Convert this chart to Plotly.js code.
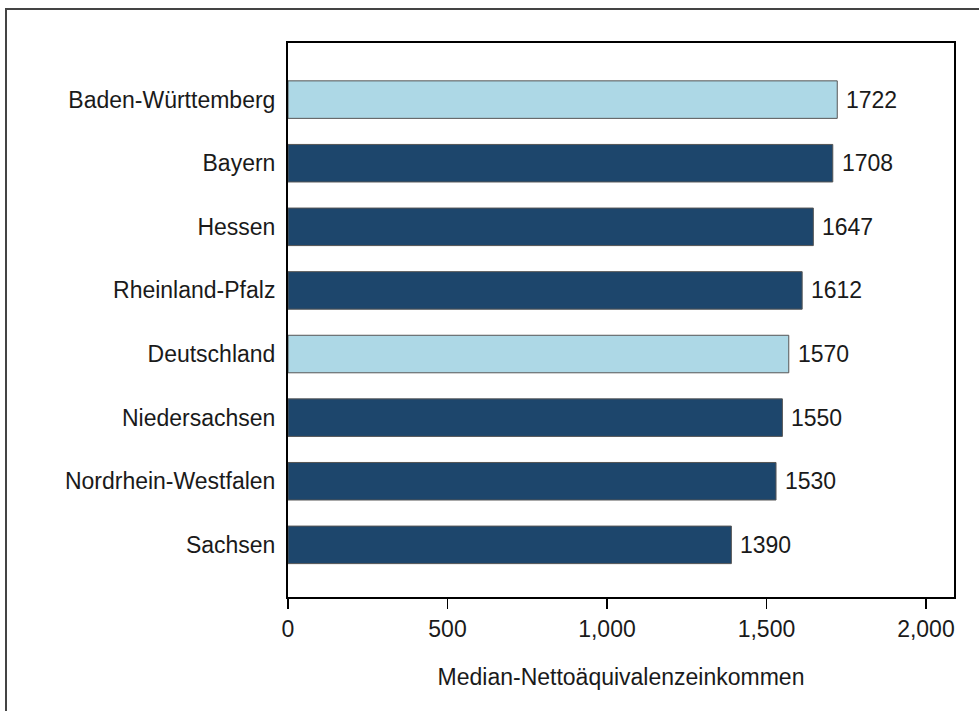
<!DOCTYPE html>
<html>
<head>
<meta charset="utf-8">
<script src="https://cdn.plot.ly/plotly-3.0.1.min.js"></script>
<style>
  html, body { margin: 0; padding: 0; background: #ffffff; }
  #chart { width: 979px; height: 711px; }
</style>
</head>
<body>
<div id="chart"></div>
<script>
// Median net equivalent income by federal state (bottom to top)
const states = [
  "Sachsen",
  "Nordrhein-Westfalen",
  "Niedersachsen",
  "Deutschland",
  "Rheinland-Pfalz",
  "Hessen",
  "Bayern",
  "Baden-Württemberg"
];
const medianIncome = [1390, 1530, 1550, 1570, 1612, 1647, 1708, 1722];
const highlighted = [false, false, false, true, false, false, false, true];
const xTickValues = [0, 500, 1000, 1500, 2000];
const xTickLabels = ["0", "500", "1,000", "1,500", "2,000"];

const darkBlue = "#1d466c";
const lightBlue = "#add8e6";
const fontFamily = "Liberation Sans, Arial, sans-serif";
const textColor = "#1a1a1a";
const fontSize = 23;

const trace = {
  type: "bar",
  orientation: "h",
  y: states,
  x: medianIncome,
  width: 0.59,
  marker: {
    color: highlighted.map(h => (h ? lightBlue : darkBlue)),
    line: { color: "#555555", width: 1 }
  },
  hoverinfo: "skip"
};

const valueLabels = states.map((s, i) => ({
  x: medianIncome[i],
  y: s,
  xref: "x",
  yref: "y",
  text: String(medianIncome[i]),
  showarrow: false,
  xanchor: "left",
  yanchor: "middle",
  xshift: 7,
  font: { family: fontFamily, size: fontSize, color: textColor }
}));

const layout = {
  width: 979,
  height: 711,
  margin: { l: 288, r: 25, t: 43, b: 114 },
  paper_bgcolor: "#ffffff",
  plot_bgcolor: "#ffffff",
  showlegend: false,
  font: { family: fontFamily, size: fontSize, color: textColor },
  xaxis: {
    range: [0, 2088],
    tickvals: xTickValues,
    ticktext: xTickLabels,
    ticks: "outside",
    ticklen: 10,
    tickwidth: 1.5,
    tickcolor: "#000000",
    showline: true,
    linecolor: "#000000",
    linewidth: 2,
    mirror: true,
    showgrid: false,
    zeroline: false,
    tickfont: { family: fontFamily, size: fontSize, color: textColor },
    title: {
      text: "Median-Nettoäquivalenzeinkommen",
      font: { family: fontFamily, size: fontSize, color: textColor },
      standoff: 28
    }
  },
  yaxis: {
    type: "category",
    range: [-0.82, 7.89],
    ticks: "",
    showline: true,
    linecolor: "#000000",
    linewidth: 2,
    mirror: true,
    showgrid: false,
    zeroline: false,
    ticklabelstandoff: 6,
    tickfont: { family: fontFamily, size: fontSize, color: textColor }
  },
  annotations: valueLabels,
  shapes: [
    {
      type: "rect",
      xref: "paper",
      yref: "paper",
      x0: (6 - 288) / 666,
      x1: (995 - 288) / 666,
      y0: (597 - 725) / 554,
      y1: (597 - 9) / 554,
      line: { color: "#444444", width: 2 },
      fillcolor: "rgba(0,0,0,0)",
      layer: "below"
    }
  ]
};

Plotly.newPlot("chart", [trace], layout, { displayModeBar: false, staticPlot: true });
</script>
</body>
</html>
